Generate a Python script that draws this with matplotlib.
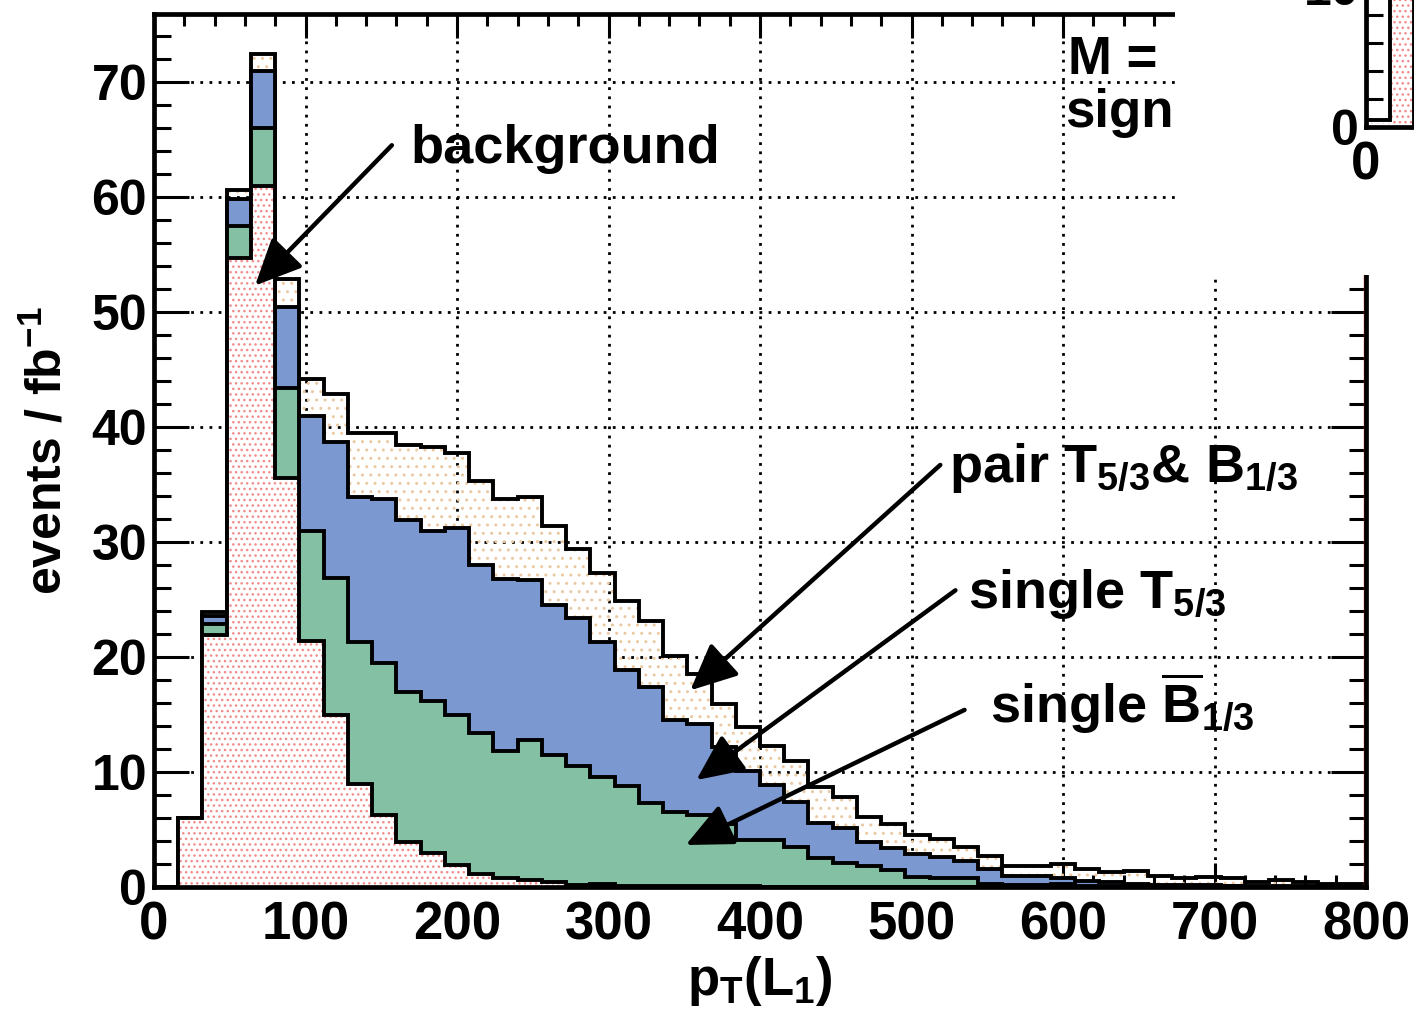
import matplotlib
matplotlib.use('Agg')
import matplotlib.pyplot as plt
import numpy as np
from matplotlib.patches import Rectangle

plt.rcParams['font.family'] = ['Liberation Sans', 'DejaVu Sans']
plt.rcParams['font.weight'] = 'bold'
plt.rcParams['axes.labelweight'] = 'bold'
plt.rcParams['mathtext.fontset'] = 'custom'
plt.rcParams['mathtext.rm'] = 'Liberation Sans:bold'
plt.rcParams['mathtext.it'] = 'Liberation Sans:bold'
plt.rcParams['mathtext.bf'] = 'Liberation Sans:bold'
plt.rcParams['mathtext.default'] = 'bf'
plt.rcParams['hatch.linewidth'] = 1.0

# bins de 16 GeV entre 0 y 800
edges = np.arange(0, 801, 16)

background = [0, 6.0, 21.9, 54.7, 61.0, 35.6, 21.4, 15.0, 9.0, 6.3,
              3.9, 3.0, 1.9, 1.1, 0.8, 0.6, 0.4, 0.2, 0.25, 0.1,
              0.1, 0.1, 0.05, 0.05, 0.05, 0, 0, 0, 0, 0,
              0, 0, 0, 0, 0, 0, 0, 0, 0, 0,
              0, 0, 0, 0, 0, 0, 0, 0, 0, 0]
single_B = [0, 0, 1.0, 2.8, 5.0, 7.8, 9.6, 11.9, 12.3, 13.2,
            13.1, 13.2, 13.1, 12.3, 11.0, 12.2, 11.1, 10.3, 9.35, 8.7,
            7.2, 6.4, 6.25, 5.45, 4.05, 4.1, 3.5, 2.5, 2.1, 1.8,
            1.5, 0.9, 0.8, 0.8, 0.3, 0.2, 0.2, 0.25, 0.1, 0.1,
            0.1, 0.05, 0.05, 0.05, 0.05, 0.02, 0.02, 0.02, 0, 0]
single_T = [0, 0, 0.7, 2.3, 5.0, 7.0, 10.0, 11.8, 12.6, 14.2,
            14.9, 14.8, 16.2, 14.6, 15.0, 13.9, 13.0, 12.9, 11.7, 10.1,
            10.1, 8.0, 7.9, 6.7, 6.0, 4.8, 3.9, 3.1, 3.0, 2.1,
            1.9, 2.0, 1.8, 1.5, 1.3, 0.8, 0.75, 0.5, 0.45, 0.3,
            0.2, 0.15, 0.1, 0.1, 0.05, 0.08, 0.08, 0.03, 0.05, 0.05]
pair = [0, 0, 0.3, 0.8, 1.4, 2.5, 3.2, 4.2, 5.6, 5.8,
        6.5, 7.3, 6.5, 7.3, 6.9, 7.2, 6.9, 6.0, 6.0, 6.0,
        5.7, 5.6, 4.3, 3.7, 3.8, 3.4, 3.6, 3.1, 2.7, 2.2,
        2.1, 1.6, 1.6, 1.2, 1.1, 0.8, 0.85, 1.25, 1.05, 0.9,
        1.1, 0.75, 0.6, 0.7, 0.7, 0.3, 0.55, 0.35, 0.2, 0.2]

x_ticks = list(range(0, 801, 100))
y_ticks = list(range(0, 71, 10))

# panel vecino (recortado) arriba a la derecha
inset_edges = [0, 16, 32, 48]
inset_fill = [0.3, 40, 40]
inset_line = [0.5, 40]

fig = plt.figure(figsize=(14.14, 10.14), dpi=100)
ax = fig.add_axes([154 / 1414, 1 - 887 / 1014, 1212 / 1414, 873 / 1014])

c_bg = np.array(background)
c_B = c_bg + np.array(single_B)
c_T = c_B + np.array(single_T)
c_pair = c_T + np.array(pair)

capas = [
    (c_pair, 'none', '#eac9a4', '..'),
    (c_T, '#7b98d0', '#7b98d0', None),
    (c_B, '#84c1a4', '#84c1a4', None),
    (c_bg, 'white', '#f28a8a', '...'),
]
z = 2
for vals, fc, hc, hatch in capas:
    ax.stairs(vals, edges, baseline=0, fill=True, facecolor=fc, edgecolor=hc,
              hatch=hatch, linewidth=0, zorder=z)
    ax.stairs(vals, edges, baseline=0, fill=False, color='k', lw=2.8, zorder=z + 0.5)
    z += 1

ax.axvline(798.4, color='#e03030', lw=1.0, zorder=8)

ax.set_xlim(0, 800)
ax.set_ylim(0, 873 / 11.5)
ax.set_xticks(x_ticks)
ax.set_yticks(y_ticks)
ax.set_xticks(np.arange(0, 801, 20), minor=True)
ax.set_yticks(np.arange(0, 76, 2), minor=True)
ax.grid(True, which='major', color='k', linestyle=(0, (1, 2.3)), lw=2.0, zorder=1)
ax.set_axisbelow(True)

ax.tick_params(axis='x', which='major', direction='in', length=17, width=2.2,
               top=True, bottom=True, labelsize=38, pad=10)
ax.tick_params(axis='x', which='minor', direction='in', length=8.6, width=2.2,
               top=True, bottom=True)
ax.tick_params(axis='y', which='major', direction='in', length=25, width=2.2,
               left=True, right=True, labelsize=36, pad=5)
ax.tick_params(axis='y', which='minor', direction='in', length=12, width=2.2,
               left=True, right=True)
for s in ax.spines.values():
    s.set_linewidth(3.4)
    s.set_zorder(10)

ax.set_xlabel(r'p$_{T}$(L$_{1}$)', fontsize=38, fontweight='bold', labelpad=2)
ax.set_ylabel(r'events / fb$^{-1}$', fontsize=36, fontweight='bold', labelpad=14)

# flechas y etiquetas
flechas = [((66.7, 52.3), (157, 64.5)),
           ((354, 17.1), (519, 36.7)),
           ((358, 9.3), (529, 25.8)),
           ((351, 3.65), (535, 15.4))]
for head, tail in flechas:
    ax.annotate('', xy=head, xytext=tail,
                arrowprops=dict(arrowstyle='-|>,head_length=1.3,head_width=0.6',
                                lw=3.2, color='k', mutation_scale=22,
                                shrinkA=0, shrinkB=0), zorder=12)

ax.text(169, 63.0, 'background', fontsize=39, va='baseline', ha='left', zorder=12)
ax.text(525, 35.2, r'pair T$_{5/3}$& B$_{1/3}$', fontsize=39, va='baseline', ha='left', zorder=12)
ax.text(537, 24.3, r'single T$_{5/3}$', fontsize=39, va='baseline', ha='left', zorder=12)
ax.text(552, 14.3, r'single $\overline{B}_{1/3}$', fontsize=39, va='baseline', ha='left', zorder=12)

# zona tapada por el panel vecino
fig.patches.append(Rectangle((1175 / 1414, 1 - 275 / 1014), 1, 1,
                             transform=fig.transFigure, facecolor='white',
                             edgecolor='none', zorder=1))
fig.text(1068 / 1414, 1 - 60 / 1014, 'M =', fontsize=38, va='center', ha='left', zorder=3)
fig.text(1065 / 1414, 1 - 113 / 1014, 'sign', fontsize=38, va='center', ha='left', zorder=3)

ins = fig.add_axes([1366 / 1414, 1 - 127 / 1014, 72 / 1414, 140 / 1014], zorder=5)
ins.stairs(inset_fill, inset_edges, baseline=0, fill=True, facecolor='white',
           edgecolor='#f28a8a', hatch='...', linewidth=0)
ins.stairs(inset_line, inset_edges[:3], baseline=0, fill=False, color='k', lw=2.8)
ins.axvline(0.4, color='#e03030', lw=1.0)
ins.set_xlim(0, 48)
ins.set_ylim(0, 10)
ins.set_xticks([0])
ins.set_yticks([0, 10])
ins.set_yticks([2, 4, 6, 8], minor=True)
ins.tick_params(axis='y', which='major', direction='in', length=25, width=2.2,
                labelsize=36, pad=5)
ins.tick_params(axis='y', which='minor', direction='in', length=12, width=2.2)
ins.tick_params(axis='x', which='major', length=0, labelsize=38, pad=10)
ins.spines['top'].set_visible(False)
ins.spines['right'].set_visible(False)
ins.spines['left'].set_linewidth(3.4)
ins.spines['bottom'].set_linewidth(3.4)

fig.savefig('out.png', dpi=100)
